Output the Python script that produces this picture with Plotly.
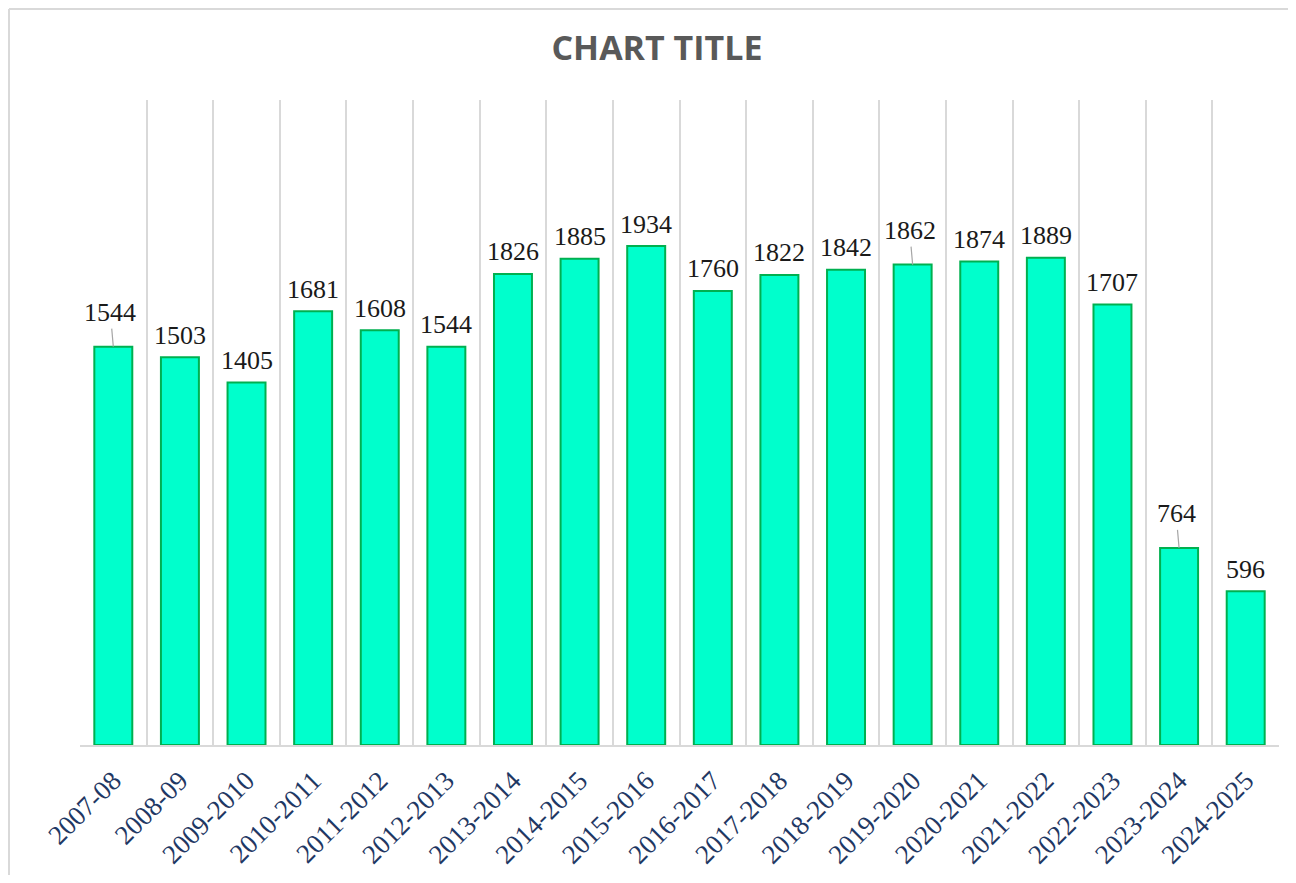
import plotly.graph_objects as go

categories = ["2007-08", "2008-09", "2009-2010", "2010-2011", "2011-2012", "2012-2013",
              "2013-2014", "2014-2015", "2015-2016", "2016-2017", "2017-2018", "2018-2019",
              "2019-2020", "2020-2021", "2021-2022", "2022-2023", "2023-2024", "2024-2025"]
values = [1544, 1503, 1405, 1681, 1608, 1544, 1826, 1885, 1934, 1760, 1822, 1842,
          1862, 1874, 1889, 1707, 764, 596]
leader_labels = ["2007-08", "2019-2020", "2023-2024"]

W, H = 1280, 867
ML, MR, MT, MB = 72, 9, 92, 130
PW, PH = W - ML - MR, H - MT - MB

SERIF = "Liberation Serif, Times New Roman, serif"

fig = go.Figure()
fig.add_trace(go.Bar(
    x=categories, y=values,
    marker=dict(color="#00FFCC", line=dict(color="#00B050", width=2)),
    hoverinfo="x+y",
))

annotations = []
for c, v in zip(categories, values):
    if c in leader_labels:
        annotations.append(dict(
            x=c, y=v, xref="x", yref="y", text=str(v), showarrow=True,
            arrowhead=0, arrowwidth=1.2, arrowcolor="#A6A6A6",
            ax=-3, ay=-34, standoff=0,
            font=dict(family=SERIF, size=26, color="#1a1a1a"),
        ))
    else:
        annotations.append(dict(
            x=c, y=v, xref="x", yref="y", text=str(v), showarrow=False,
            yshift=22,
            font=dict(family=SERIF, size=26, color="#1a1a1a"),
        ))

# outer chart border (left and top)
x_left = (1 - ML) / PW
y_top = 1 + (MT - 1) / PH
y_bot = -(MB + 8) / PH
shapes = [
    dict(type="line", xref="paper", yref="paper", x0=x_left, x1=1 + MR / PW + 0.01,
         y0=y_top, y1=y_top, line=dict(color="#D9D9D9", width=2), layer="below"),
    dict(type="line", xref="paper", yref="paper", x0=x_left, x1=x_left,
         y0=y_top, y1=y_bot, line=dict(color="#D9D9D9", width=2), layer="below"),
]

fig.update_layout(
    width=W, height=H,
    margin=dict(l=ML, r=MR, t=MT, b=MB),
    paper_bgcolor="white", plot_bgcolor="white",
    title=dict(text="<b>CHART TITLE</b>", x=0.507, xref="container", xanchor="center",
               y=1 - 40 / H, yref="container", yanchor="middle",
               font=dict(family="Open Sans, sans-serif", size=34, color="#595959")),
    bargap=0.43,
    showlegend=False,
    annotations=annotations,
    shapes=shapes,
    xaxis=dict(
        type="category", tickson="boundaries", showgrid=True, gridcolor="#D9D9D9", gridwidth=2,
        showline=True, linecolor="#D9D9D9", linewidth=2, ticks="", tickangle=-45,
        ticklabelstandoff=7, automargin=False,
        tickfont=dict(family=SERIF, size=27, color="#1F3864"),
    ),
    yaxis=dict(range=[0, 2500], showgrid=False, showticklabels=False, zeroline=False,
               showline=False, ticks="", automargin=False),
)

fig.write_html("out.html")
